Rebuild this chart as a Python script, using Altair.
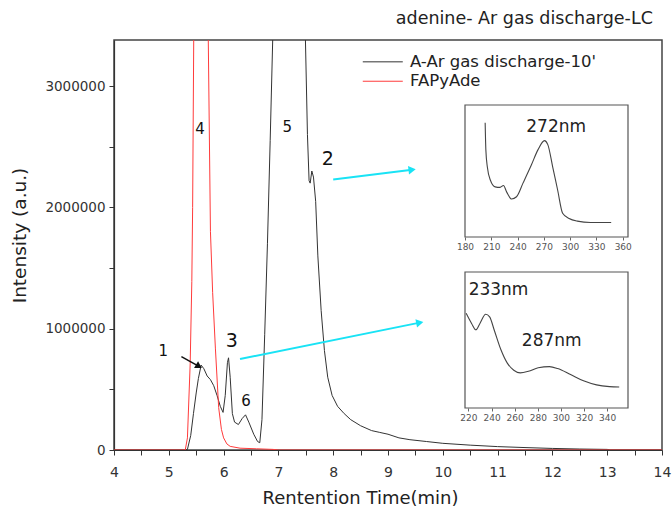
import altair as alt
import pandas as pd

# ---------------- data ----------------
series_names = ["A-Ar gas discharge-10'", "FAPyAde"]
series_colors = ["#333333", "#ff3b3b"]

black_t = [4.0, 5.30, 5.34, 5.40, 5.45, 5.50, 5.54, 5.59, 5.64, 5.70, 5.76, 5.82, 5.88, 5.94,
           5.99, 6.03, 6.07, 6.09, 6.12, 6.16, 6.20, 6.27, 6.34, 6.40, 6.46, 6.55, 6.62, 6.66,
           6.70, 6.75, 6.80, 6.85, 6.90, 7.20, 7.49, 7.53, 7.56, 7.58, 7.61, 7.64, 7.68, 7.72,
           7.78, 7.84, 7.90, 7.98, 8.08, 8.20, 8.32, 8.50, 8.70, 8.85, 9.00, 9.20, 9.40, 9.70,
           10.0, 10.5, 11.0, 11.5, 12.0, 12.5, 13.0, 13.05, 14.0]
black_v = [0, 0, 5000, 120000, 300000, 470000, 590000, 700000, 670000, 610000, 580000, 530000,
           450000, 360000, 310000, 450000, 720000, 760000, 600000, 300000, 230000, 210000,
           260000, 290000, 230000, 130000, 70000, 60000, 250000, 950000, 1700000, 2550000,
           3450000, 5000000, 3450000, 2600000, 2220000, 2200000, 2300000, 2250000, 2050000,
           1600000, 1150000, 820000, 600000, 450000, 360000, 300000, 250000, 200000, 160000,
           145000, 130000, 100000, 85000, 70000, 55000, 40000, 28000, 20000, 13000, 8000, 5000,
           0, 0]

red_t = [4.0, 5.30, 5.34, 5.39, 5.42, 5.435, 5.455, 5.60, 5.72, 5.76, 5.80, 5.85, 5.91, 5.96,
         6.00, 6.06, 6.12, 6.30, 6.60, 6.90, 7.00, 14.0]
red_v = [0, 0, 100000, 710000, 1390000, 2000000, 3400000, 6000000, 3400000, 1800000, 1300000,
         840000, 350000, 170000, 100000, 50000, 30000, 15000, 10000, 5000, 0, 0]

# legend (drawn inside the plot, in data units)
legend_t0 = [8.54, 8.54]
legend_t1 = [9.27, 9.27]
legend_v = [3200000, 3040000]
legend_text_t = [9.40, 9.40]

peak_labels = ["1", "3", "6", "4", "5", "2"]
peak_t = [4.90, 6.15, 6.41, 5.57, 7.16, 7.90]
peak_v = [820000, 900000, 400000, 2650000, 2660000, 2400000]
peak_size = [15, 19, 15, 15, 15, 19]

arrow_id = ["a", "a", "b", "b"]
arrow_t = [8.00, 9.44, 6.30, 9.58]
arrow_v = [2230000, 2310000, 750000, 1050000]
arrow_head_t = [9.44, 9.58]
arrow_head_v = [2310000, 1050000]
arrow_head_angle = [353, 349]

pointer_t = [5.23, 5.55]
pointer_v = [770000, 690000]
pointer_head_t = [5.55]
pointer_head_v = [690000]
pointer_head_angle = [31]

inset1_nm = [203, 203.8, 205.5, 209, 214.4, 220, 223.9, 227.6, 233.2, 238.8, 246.3, 255.7,
             263.2, 270.7, 274.5, 280.1, 285.7, 291.4, 298.8, 308.2, 323.2, 346.8]
inset1_abs = [0.866, 0.66, 0.53, 0.43, 0.38, 0.376, 0.39, 0.34, 0.288, 0.305, 0.41, 0.545,
              0.66, 0.73, 0.70, 0.53, 0.356, 0.18, 0.14, 0.12, 0.11, 0.11]
inset1_ticks = [180, 210, 240, 270, 300, 330, 360]
inset1_domain = [180, 366]
inset1_label = ["272nm"]
inset1_label_nm = [284]
inset1_label_abs = [0.83]

inset2_nm = [218, 222.8, 226.4, 229.8, 234.9, 238.3, 242.4, 248, 253.6, 259.2, 264.8, 271.9,
             280.3, 290.1, 297.1, 308.3, 319.5, 330.8, 342, 350.4]
inset2_abs = [0.696, 0.62, 0.575, 0.62, 0.689, 0.67, 0.57, 0.43, 0.33, 0.278, 0.258, 0.27,
              0.296, 0.304, 0.29, 0.246, 0.2, 0.17, 0.157, 0.154]
inset2_ticks = [220, 240, 260, 280, 300, 320, 340]
inset2_domain = [217, 358]
inset2_label = ["233nm", "287nm"]
inset2_label_nm = [246, 292]
inset2_label_abs = [0.87, 0.49]

# ---------------- layout ----------------
W, H = 548, 410
FONT = "DejaVu Sans"

x_ticks = [4 + 0.5 * i for i in range(21)]
y_ticks = [500000 * i for i in range(7)]

x_main = alt.X("t:Q",
               scale=alt.Scale(domain=[4, 14], nice=False, zero=False),
               axis=alt.Axis(orient="bottom", title="Rentention Time(min)", values=x_ticks,
                             labelExpr="datum.value % 1 == 0 ? format(datum.value, 'd') : ''",
                             labelFontSize=14, labelPadding=10, labelFlush=False,
                             titleX=246, titleY=48, titleBaseline="middle", titleFontSize=18))
y_main = alt.Y("v:Q",
               scale=alt.Scale(domain=[0, 3380000], nice=False),
               axis=alt.Axis(orient="left", title="Intensity (a.u.)", values=y_ticks,
                             labelExpr="datum.value % 1000000 == 0 ? format(datum.value, 'd') : ''",
                             labelFontSize=13.5, labelPadding=4, labelFlush=False,
                             titleX=-95, titleY=195, titleBaseline="middle", titleFontSize=18.5))

color_enc = alt.Color("series:N", scale=alt.Scale(domain=series_names, range=series_colors),
                      legend=None)

lines_df = pd.concat([
    pd.DataFrame({"t": black_t, "v": black_v, "series": series_names[0]}),
    pd.DataFrame({"t": red_t, "v": red_v, "series": series_names[1]}),
])

lines = alt.Chart(lines_df).mark_line(clip=True, strokeWidth=1).encode(
    x=x_main, y=y_main, color=color_enc,
    order=alt.Order("series:N", sort="descending"),
)

leg_df = pd.concat([
    pd.DataFrame({"t": legend_t0, "v": legend_v, "series": series_names}),
    pd.DataFrame({"t": legend_t1, "v": legend_v, "series": series_names}),
])
leg_lines = alt.Chart(leg_df).mark_line(strokeWidth=1).encode(
    x=x_main, y=y_main, color=color_enc, detail="series:N")
leg_text = alt.Chart(pd.DataFrame({"t": legend_text_t, "v": legend_v, "series": series_names})
                     ).mark_text(font=FONT, fontSize=16.5, color="#222", align="left",
                                 baseline="middle").encode(x=x_main, y=y_main, text="series:N")

labels_df = pd.DataFrame({"t": peak_t, "v": peak_v, "label": peak_labels, "size": peak_size})
peak_text = alt.Chart(labels_df).mark_text(font=FONT, color="#111").encode(
    x=x_main, y=y_main, text="label:N", size=alt.Size("size:Q", scale=None))

arrow_df = pd.DataFrame({"t": arrow_t, "v": arrow_v, "id": arrow_id})
arrows = alt.Chart(arrow_df).mark_line(color="#19e3f5", strokeWidth=2).encode(
    x=x_main, y=y_main, detail="id:N")
head_df = pd.DataFrame({"t": arrow_head_t, "v": arrow_head_v, "ang": arrow_head_angle})
heads = alt.Chart(head_df).mark_point(shape="triangle-right", filled=True, size=70,
                                      color="#19e3f5", opacity=1).encode(
    x=x_main, y=y_main, angle=alt.Angle("ang:Q", scale=None))

pointer_df = pd.DataFrame({"t": pointer_t, "v": pointer_v})
pointer = alt.Chart(pointer_df).mark_line(color="#111", strokeWidth=1.5).encode(x=x_main, y=y_main)
phead_df = pd.DataFrame({"t": pointer_head_t, "v": pointer_head_v, "ang": pointer_head_angle})
phead = alt.Chart(phead_df).mark_point(shape="triangle-right", filled=True, size=60,
                                       color="#111", opacity=1).encode(
    x=x_main, y=y_main, angle=alt.Angle("ang:Q", scale=None))

main = alt.layer(lines, leg_lines, leg_text, arrows, heads, pointer, phead, peak_text)


def make_inset(nm, ab, ticks, domain, yrange, offset, lab, lab_nm, lab_ab):
    xs = alt.X("nm:Q", scale=alt.Scale(domain=domain, range=[351, 514], nice=False, zero=False),
               axis=alt.Axis(orient="bottom", offset=offset, values=ticks, title=None,
                             labelFont=FONT, labelFontSize=9, labelColor="#555",
                             tickSize=3, tickColor="#666", domain=False, labelPadding=2,
                             labelFlush=False, labelOverlap=False, grid=False))
    ys = alt.Y("ab:Q", scale=alt.Scale(domain=[0, 1], range=yrange, nice=False), axis=None)
    frame = alt.Chart(pd.DataFrame({"nm": [domain[0]], "nm2": [domain[1]],
                                    "ab": [0.0], "ab2": [1.0]})).mark_rect(
        fillOpacity=0, stroke="#555", strokeWidth=1.2).encode(
        x=xs, x2="nm2:Q", y=ys, y2="ab2:Q")
    curve = alt.Chart(pd.DataFrame({"nm": nm, "ab": ab})).mark_line(
        color="#444", strokeWidth=1.1, interpolate="monotone").encode(x=xs, y=ys)
    txt = alt.Chart(pd.DataFrame({"nm": lab_nm, "ab": lab_ab, "lab": lab})).mark_text(
        font=FONT, fontSize=17, color="#222").encode(x=xs, y=ys, text="lab:N")
    return alt.layer(frame, curve, txt)


inset1 = make_inset(inset1_nm, inset1_abs, inset1_ticks, inset1_domain, [197, 65], -213,
                    inset1_label, inset1_label_nm, inset1_label_abs)
inset2 = make_inset(inset2_nm, inset2_abs, inset2_ticks, inset2_domain, [368, 232], -42,
                    inset2_label, inset2_label_nm, inset2_label_abs)

chart = alt.layer(main, inset1, inset2).resolve_scale(
    x="independent", y="independent").resolve_axis(x="independent", y="independent").properties(
    width=W, height=H,
    autosize=alt.AutoSizeParams(type="none"),
    padding={"left": 114, "top": 40, "right": 10, "bottom": 59},
    title=alt.TitleParams("adenine- Ar gas discharge-LC", anchor="end", font=FONT,
                          fontSize=17.5, fontWeight="normal", color="#222", offset=13, dx=-18),
    background="white",
).configure_view(stroke="#444", strokeWidth=1.5).configure_axis(
    grid=False, labelFont=FONT, labelColor="#333", titleFont=FONT,
    titleFontWeight="normal", titleColor="#222", domainColor="#333",
    tickColor="#333", tickSize=5, domainWidth=1.2,
)

chart.save("out.html", embed_options={"renderer": "svg", "actions": False})
